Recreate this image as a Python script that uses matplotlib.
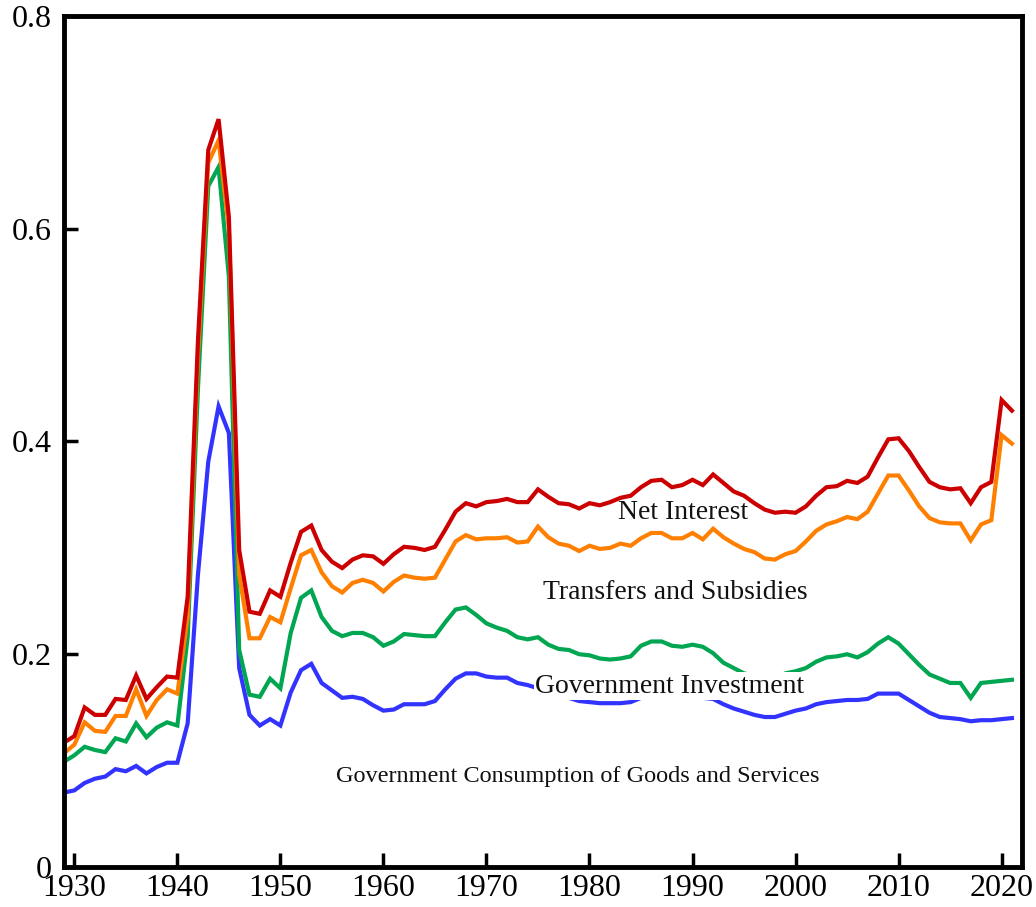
import numpy as np
import matplotlib
matplotlib.use("Agg")
import matplotlib.pyplot as plt

years = list(range(1929, 2022))

# cumulative shares
gov_consumption = [
    0.070, 0.072, 0.079, 0.083, 0.085, 0.092, 0.090, 0.095, 0.088, 0.094,  # 1929-38
    0.098, 0.098, 0.135, 0.275, 0.381, 0.433, 0.408, 0.187, 0.143, 0.133,  # 1939-48
    0.139, 0.133, 0.164, 0.185, 0.191, 0.173, 0.166, 0.159, 0.160, 0.158,  # 1949-58
    0.152, 0.147, 0.148, 0.153, 0.153, 0.153, 0.156, 0.167, 0.177, 0.182,  # 1959-68
    0.182, 0.179, 0.178, 0.178, 0.173, 0.171, 0.168, 0.165, 0.162, 0.159,  # 1969-78
    0.156, 0.155, 0.154, 0.154, 0.154, 0.155, 0.159, 0.160, 0.160, 0.159,  # 1979-88
    0.160, 0.160, 0.159, 0.158, 0.153, 0.149, 0.146, 0.143, 0.141, 0.141,  # 1989-98
    0.144, 0.147, 0.149, 0.153, 0.155, 0.156, 0.157, 0.157, 0.158, 0.163,  # 1999-2008
    0.163, 0.163, 0.157, 0.151, 0.145, 0.141, 0.140, 0.139, 0.137, 0.138,  # 2009-18
    0.138, 0.139, 0.140,                                                   # 2019-21
]
gov_investment = [
    0.099, 0.105, 0.113, 0.110, 0.108, 0.121, 0.118, 0.135, 0.122, 0.131,
    0.136, 0.133, 0.216, 0.450, 0.640, 0.658, 0.555, 0.204, 0.162, 0.160,
    0.177, 0.168, 0.220, 0.253, 0.260, 0.235, 0.222, 0.217, 0.220, 0.220,
    0.216, 0.208, 0.212, 0.219, 0.218, 0.217, 0.217, 0.230, 0.242, 0.244,
    0.237, 0.229, 0.225, 0.222, 0.216, 0.214, 0.216, 0.209, 0.205, 0.204,
    0.200, 0.199, 0.196, 0.195, 0.196, 0.198, 0.208, 0.212, 0.212, 0.208,
    0.207, 0.209, 0.207, 0.201, 0.192, 0.187, 0.182, 0.180, 0.178, 0.177,
    0.182, 0.184, 0.187, 0.193, 0.197, 0.198, 0.200, 0.197, 0.202, 0.210,
    0.216, 0.210, 0.200, 0.190, 0.181, 0.177, 0.173, 0.173, 0.159, 0.173,
    0.174, 0.175, 0.176,
]
transfers = [
    0.107, 0.115, 0.136, 0.128, 0.127, 0.142, 0.142, 0.167, 0.142, 0.157,
    0.167, 0.163, 0.235, 0.480, 0.662, 0.683, 0.600, 0.275, 0.215, 0.215,
    0.235, 0.230, 0.262, 0.293, 0.298, 0.277, 0.264, 0.258, 0.267, 0.270,
    0.267, 0.259, 0.268, 0.274, 0.272, 0.271, 0.272, 0.289, 0.306, 0.312,
    0.308, 0.309, 0.309, 0.310, 0.305, 0.306, 0.320, 0.310, 0.304, 0.302,
    0.297, 0.302, 0.299, 0.300, 0.304, 0.302, 0.309, 0.314, 0.314, 0.309,
    0.309, 0.314, 0.308, 0.318, 0.310, 0.304, 0.299, 0.296, 0.290, 0.289,
    0.294, 0.297, 0.306, 0.316, 0.322, 0.325, 0.329, 0.327, 0.334, 0.351,
    0.368, 0.368, 0.354, 0.339, 0.328, 0.324, 0.323, 0.323, 0.307, 0.322,
    0.326, 0.406, 0.398,
]
net_interest = [
    0.117, 0.123, 0.150, 0.143, 0.143, 0.158, 0.157, 0.180, 0.158, 0.169,
    0.179, 0.178, 0.254, 0.495, 0.674, 0.703, 0.611, 0.298, 0.240, 0.238,
    0.260, 0.254, 0.286, 0.315, 0.321, 0.298, 0.287, 0.281, 0.289, 0.293,
    0.292, 0.285, 0.294, 0.301, 0.300, 0.298, 0.301, 0.317, 0.334, 0.342,
    0.339, 0.343, 0.344, 0.346, 0.343, 0.343, 0.355, 0.348, 0.342, 0.341,
    0.337, 0.342, 0.340, 0.343, 0.347, 0.349, 0.357, 0.363, 0.364, 0.357,
    0.359, 0.364, 0.359, 0.369, 0.361, 0.353, 0.349, 0.342, 0.336, 0.333,
    0.334, 0.333, 0.339, 0.349, 0.357, 0.358, 0.363, 0.361, 0.367, 0.385,
    0.402, 0.403, 0.391, 0.376, 0.362, 0.357, 0.355, 0.356, 0.342, 0.357,
    0.362, 0.439, 0.429,
]

labels = ["Government Consumption of Goods and Services", "Government Investment",
          "Transfers and Subsidies", "Net Interest"]
colors = ["#3333ff", "#00a651", "#ff8000", "#cc0000"]

plt.rcParams['font.family'] = ['Liberation Serif', 'DejaVu Serif']

fig = plt.figure(figsize=(10.36, 9.07), dpi=100)
ax = fig.add_axes([0.0618, 0.0441, 0.9249, 0.9383])

for ser, c in zip([gov_consumption, gov_investment, transfers, net_interest], colors):
    ax.plot(years, ser, color=c, lw=3.0, solid_joinstyle='miter')

box = dict(facecolor='white', edgecolor='none', pad=1)
ax.text(1978.9, 0.085, labels[0], fontsize=17.5, ha='center', va='center', color='#111111', zorder=5)
ax.text(1987.8, 0.170, labels[1], fontsize=20, ha='center', va='center', color='#111111', bbox=box, zorder=5)
ax.text(1988.3, 0.258, labels[2], fontsize=20, ha='center', va='center', color='#111111', zorder=5)
ax.text(1989.1, 0.333, labels[3], fontsize=20, ha='center', va='center', color='#111111', zorder=5)

ax.set_xlim(1929, 2022)
ax.set_ylim(0, 0.8)
ax.set_xticks(range(1930, 2030, 10))
ax.set_yticks([0, 0.2, 0.4, 0.6, 0.8])
ax.set_yticklabels(['0', '0.2', '0.4', '0.6', '0.8'])
ax.tick_params(direction='in', length=10, width=2.5, labelsize=23,
               top=False, right=False)
ax.tick_params(axis='x', pad=5)
ax.tick_params(axis='y', pad=9)
for s in ax.spines.values():
    s.set_linewidth(3.5)

fig.savefig('out.png', dpi=100)
